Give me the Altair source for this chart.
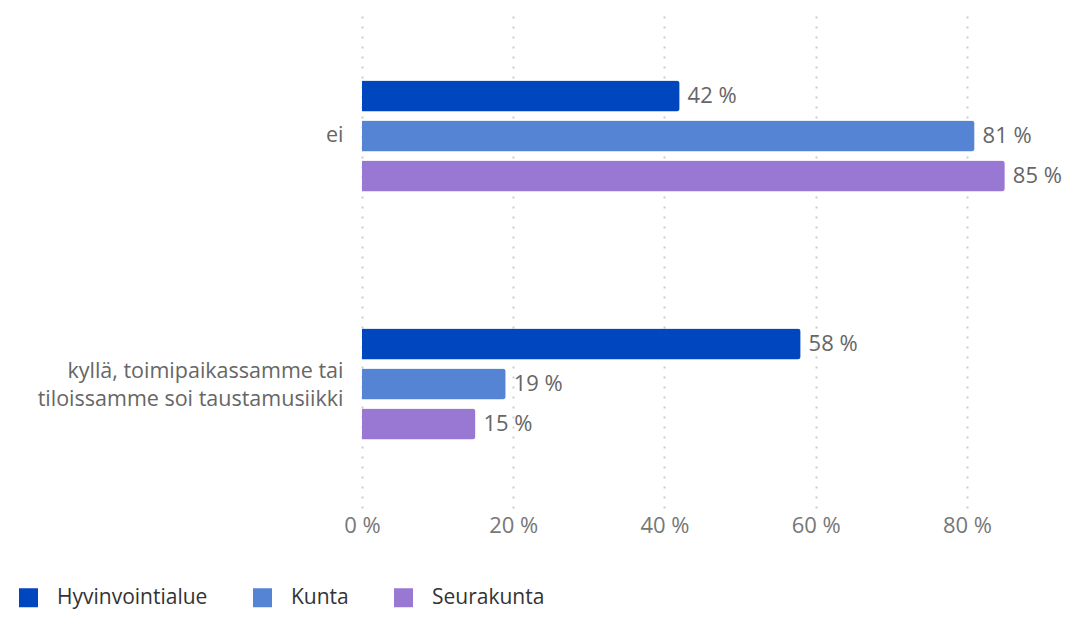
import altair as alt
import pandas as pd

categories = ["ei", "kyllä, toimipaikassamme tai|tiloissamme soi taustamusiikki"]
series = ["Hyvinvointialue", "Kunta", "Seurakunta"]
values = {
    "Hyvinvointialue": [42, 58],
    "Kunta": [81, 19],
    "Seurakunta": [85, 15],
}
colors = ["#0046BE", "#5584D4", "#9878D2"]
x_ticks = [0, 20, 40, 60, 80]
x_max = 92.96  # axis extent (plot area is wider than the last gridline)

rows = []
for s in series:
    for c, v in zip(categories, values[s]):
        rows.append({"category": c, "series": s, "value": v, "label": f"{v} %"})
df = pd.DataFrame(rows)

FONT = "Open Sans"

y_enc = alt.Y(
    "category:N",
    sort=categories,
    title=None,
    scale=alt.Scale(paddingInner=0.516, paddingOuter=0.258),
    axis=alt.Axis(
        labelExpr="split(datum.label, '|')",
        labelFontSize=21.5,
        labelColor="#666666",
        labelFont=FONT,
        labelPadding=19,
        labelLineHeight=28,
        labelLimit=0,
        labelOffset={
            "condition": {"test": "indexof(datum.value, '|') >= 0", "value": -12},
            "value": 0,
        },
        ticks=False,
        domain=False,
        grid=False,
    ),
)
yoff_enc = alt.YOffset(
    "series:N",
    sort=series,
    scale=alt.Scale(paddingInner=0.225, paddingOuter=0.1125),
)
x_enc = alt.X(
    "value:Q",
    title=None,
    scale=alt.Scale(domain=[0, x_max], nice=False, zero=True),
    axis=alt.Axis(
        values=x_ticks,
        labelExpr="datum.value + ' %'",
        labelFontSize=22,
        labelColor="#777777",
        labelFont=FONT,
        labelPadding=7,
        labelFlush=False,
        ticks=False,
        domain=False,
        grid=True,
        gridColor="#cccccc",
        gridDash=[2, 8],
        gridWidth=2,
    ),
)

bars = alt.Chart(df).mark_bar(cornerRadiusEnd=3).encode(
    x=x_enc,
    y=y_enc,
    yOffset=yoff_enc,
    color=alt.Color(
        "series:N",
        sort=series,
        scale=alt.Scale(domain=series, range=colors),
        legend=alt.Legend(
            title=None,
            orient="none",
            direction="horizontal",
            legendX=-344,
            legendY=575,
            symbolType="square",
            symbolSize=361,
            symbolStrokeWidth=0,
            labelFontSize=21,
            labelFont=FONT,
            labelColor="#333333",
            labelOffset=18,
            columnPadding=44,
            padding=0,
        ),
    ),
)

texts = alt.Chart(df).mark_text(
    align="left", baseline="middle", dx=8, fontSize=22, font=FONT, color="#666666"
).encode(
    x=alt.X("value:Q"),
    y=alt.Y("category:N", sort=categories),
    yOffset=alt.YOffset("series:N", sort=series),
    text="label:N",
)

chart = (
    alt.layer(bars, texts)
    .properties(
        width=703,
        height=496,
        autosize="none",
        padding={"left": 354, "top": 4, "right": 0, "bottom": 103},
    )
    .configure_view(stroke=None)
)

chart.save("out.html", embed_options={"renderer": "svg", "actions": False})
